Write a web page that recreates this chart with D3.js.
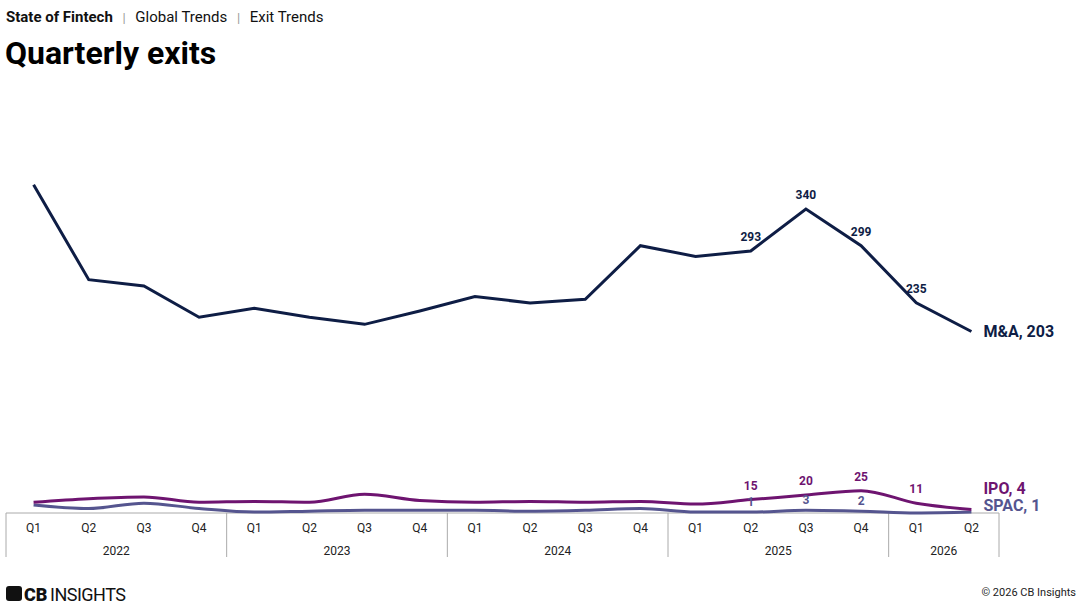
<!DOCTYPE html>
<html><head><meta charset="utf-8">
<script src="https://cdn.jsdelivr.net/npm/d3@7"></script>
<style>body{margin:0;background:#fff;font-family:Roboto,sans-serif}</style>
</head><body><div id="chart"></div>
<script>
var quarters = ['Q1','Q2','Q3','Q4','Q1','Q2','Q3','Q4','Q1','Q2','Q3','Q4','Q1','Q2','Q3','Q4','Q1','Q2'];
var years = ['2022','2023','2024','2025','2026'];
var mna = [367, 261, 254, 219, 229, 219, 211, 226, 242, 235, 239, 299, 287, 293, 340, 299, 235, 203];
var ipo = [12, 16, 18, 12, 13, 12, 21, 14, 12, 13, 12, 13, 10, 15, 20, 25, 11, 4];
var spac = [9, 5, 11, 5, 1, 2, 3, 3, 3, 2, 3, 5, 1, 1, 3, 2, 0, 1];

var W = 1080, H = 607;
var svg = d3.select('#chart').append('svg').attr('width', W).attr('height', H);

var x = d3.scaleBand().domain(d3.range(quarters.length)).range([6, 999]);
var y = d3.scaleLinear().domain([0, 340]).range([513, 209]);
var cx = function (i) { return x(i) + x.bandwidth() / 2; };

// header
var hd = svg.append('text').attr('x', 6).attr('y', 22).style('font-size', '15px').attr('fill', '#111')
    .attr('xml:space', 'preserve');
hd.append('tspan').text('State of Fintech').style('font-weight', 700);
hd.append('tspan').text('   |   ').attr('fill', '#999').style('font-size', '13px');
hd.append('tspan').text('Global Trends');
hd.append('tspan').text('   |   ').attr('fill', '#999').style('font-size', '13px');
hd.append('tspan').text('Exit Trends');
svg.append('text').attr('x', 5).attr('y', 64).text('Quarterly exits')
    .style('font-size', '32px').style('font-weight', 700).attr('fill', '#000');

// axis boxes
var ax = svg.append('g');
ax.append('line').attr('x1', 6).attr('x2', 999).attr('y1', 513).attr('y2', 513).attr('stroke', '#aaa');
quarters.forEach(function (q, i) {
    ax.append('text').attr('x', cx(i)).attr('y', 532).attr('text-anchor', 'middle')
        .style('font-size', '12px').attr('fill', '#222').text(q);
});
years.forEach(function (yr, j) {
    var s = j * 4, e = Math.min(s + 4, quarters.length);
    var x0 = x(s), x1 = x(e - 1) + x.bandwidth();
    ax.append('text').attr('x', (x0 + x1) / 2).attr('y', 555).attr('text-anchor', 'middle')
        .style('font-size', '12px').attr('fill', '#222').text(yr);
    ax.append('line').attr('x1', x0).attr('x2', x0).attr('y1', 513).attr('y2', 557).attr('stroke', '#aaa');
    if (j == years.length - 1)
        ax.append('line').attr('x1', x1).attr('x2', x1).attr('y1', 513).attr('y2', 557).attr('stroke', '#aaa');
});

function drawLine(data, color, curve, width) {
    svg.append('path').datum(data)
        .attr('d', d3.line().x(function (d, i) { return cx(i); }).y(function (d) { return y(d); }).curve(curve))
        .attr('fill', 'none').attr('stroke', color).attr('stroke-width', width);
}
drawLine(spac, '#55558f', d3.curveMonotoneX, 3);
drawLine(ipo, '#6e1470', d3.curveMonotoneX, 3);
drawLine(mna, '#0e1d45', d3.curveLinear, 3);

function labels(data, color, idx, dy) {
    idx.forEach(function (i) {
        svg.append('text').attr('x', cx(i)).attr('y', y(data[i]) + dy).attr('text-anchor', 'middle')
            .style('font-size', '12px').style('font-weight', 700).attr('fill', color).text(data[i]);
    });
}
labels(mna, '#0e1d45', [13, 14, 15, 16], -10);
labels(ipo, '#6e1470', [13, 14, 15, 16], -10);
labels(spac, '#55558f', [13, 14, 15], -6);

var last = quarters.length - 1;
var endLbl = [['M&A, ' + mna[last], '#0e1d45', y(mna[last]) + 6],
    ['IPO, ' + ipo[last], '#6e1470', 494], ['SPAC, ' + spac[last], '#55558f', 511]];
endLbl.forEach(function (l) {
    svg.append('text').attr('x', cx(last) + 12).attr('y', l[2]).text(l[0])
        .style('font-size', '16px').style('font-weight', 700).attr('fill', l[1]);
});

// footer
var lg = svg.append('g').attr('transform', 'translate(6,586)');
lg.append('rect').attr('width', 16).attr('height', 15).attr('rx', 3).attr('fill', '#111');
lg.append('text').attr('x', 18).attr('y', 15).text('CB').style('font-size', '18px').style('font-weight', 900).attr('fill', '#111');
lg.append('text').attr('x', 44).attr('y', 15).text('INSIGHTS').style('font-size', '18px').style('letter-spacing', '-0.5px').attr('fill', '#111');
svg.append('text').attr('x', 1076).attr('y', 596).attr('text-anchor', 'end').text('© 2026 CB Insights')
    .style('font-size', '11px').attr('fill', '#222');
</script></body></html>
